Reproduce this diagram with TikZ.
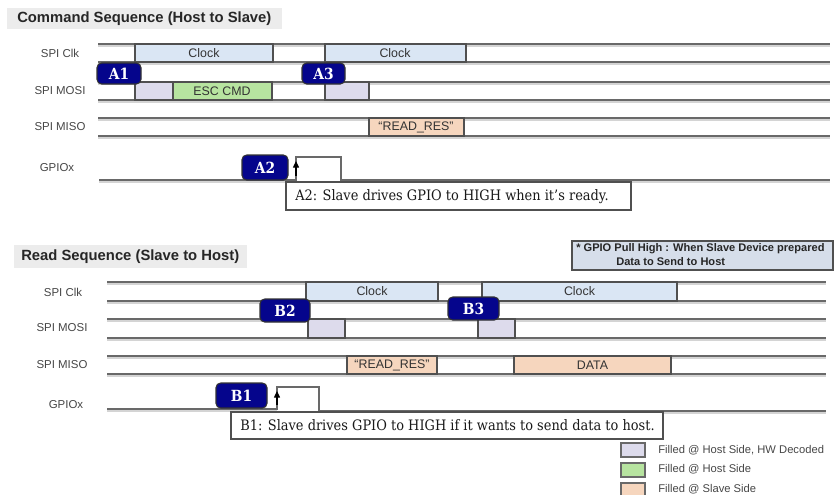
\documentclass[tikz,border=0pt]{standalone}
\usepackage{fontspec}
\setmainfont{Liberation Sans}
\newfontfamily\slab[FakeStretch=0.9]{DejaVu Serif}
\usetikzlibrary{arrows.meta}
\definecolor{sig}{RGB}{105,105,105}
\definecolor{shad}{RGB}{212,212,212}
\definecolor{clk}{RGB}{218,230,244}
\definecolor{lav}{RGB}{221,219,236}
\definecolor{grn}{RGB}{183,228,160}
\definecolor{pch}{RGB}{246,214,190}
\definecolor{navy}{RGB}{5,5,140}
\definecolor{ttl}{RGB}{236,236,236}
\definecolor{notec}{RGB}{214,222,234}
\definecolor{lbl}{RGB}{70,70,70}
\definecolor{boxb}{RGB}{80,80,80}
\tikzset{
  sigline/.style={draw=sig, line width=1.1pt},
  shadline/.style={draw=shad, line width=1.2pt},
  databox/.style={draw=boxb, line width=1.1pt},
  badgebox/.style={fill=navy, draw=black!80, line width=0.8pt, rounded corners=3.5pt},
  badgetxt/.style={text=white, font=\slab\bfseries\fontsize{11.5}{12}\selectfont, inner sep=0pt},
  sigtxt/.style={text=lbl, font=\fontsize{8.6}{9}\selectfont, inner sep=0pt},
  boxtxt/.style={text=black!80, font=\fontsize{9.3}{10}\selectfont, inner sep=0pt},
  titletxt/.style={text=black!85, font=\bfseries\fontsize{11.1}{12}\selectfont, inner sep=0pt, anchor=west},
  calltxt/.style={text=black!90, font=\slab\fontsize{10.8}{12}\selectfont, inner sep=0pt, anchor=west},
  legtxt/.style={text=lbl, font=\fontsize{8.4}{9}\selectfont, inner sep=0pt, anchor=west},
  notetxt/.style={text=black!85, font=\bfseries\fontsize{8.3}{9}\selectfont, inner sep=0pt, anchor=west},
}
\newcommand\siglines[3]{%
  \draw[shadline] (#1,#3+2) -- (#2,#3+2);
  \draw[sigline] (#1,#3) -- (#2,#3);}
\begin{document}
\begin{tikzpicture}[x=0.75pt,y=-0.75pt]
\useasboundingbox (0,0) rectangle (835,494);
% ===== Command sequence =====
\fill[ttl] (7,8) rectangle (282,29);
\node[titletxt] (t1) at (17,18.5) {Command Sequence (Host to Slave)};
% labels
\node[sigtxt] (l1) at (60,53) {SPI Clk};
\node[sigtxt] (l2) at (60,91) {SPI MOSI};
\node[sigtxt] (l3) at (60,127) {SPI MISO};
\node[sigtxt] (l4) at (57,168) {GPIOx};
% lines
\siglines{98}{830}{44}\siglines{98}{830}{62}
\siglines{98}{830}{82}\siglines{98}{830}{100}
\siglines{98}{830}{118}\siglines{98}{830}{136}
% clock boxes
\path[databox, fill=clk] (135,44) rectangle (273,62);
\node[boxtxt] (c1) at (204,53) {Clock};
\path[databox, fill=clk] (325,44) rectangle (466,62);
\node[boxtxt] (c2) at (395,53) {Clock};
% mosi
\path[databox, fill=lav] (135,82) rectangle (173,100);
\path[databox, fill=grn] (173,82) rectangle (272,100);
\node[boxtxt] (esc) at (222,91) {ESC CMD};
\path[databox, fill=lav] (325,82) rectangle (369,100);
% miso
\path[databox, fill=pch] (369,118) rectangle (464,136);
\node[boxtxt] (rr1) at (416,127) {“READ\_RES”};
% gpio
\draw[shadline] (99,182) -- (296,182);
\draw[shadline] (341,182) -- (830,182);
\draw[sigline] (99,180) -- (296,180) -- (296,157) -- (341,157) -- (341,180) -- (830,180);
\coordinate (ga0) at (296,176);
\coordinate (ga1) at (296,161);
\draw[black, line width=1pt, -{Triangle[length=5pt,width=4.5pt]}] (ga0) -- (ga1);
% badges
\path[badgebox] (97,63) rectangle (141,84);
\node[badgetxt] (A1) at (119,73.5) {A1};
\path[badgebox] (302,63) rectangle (345,84);
\node[badgetxt] (A3) at (323.5,73.5) {A3};
\path[badgebox] (242,155) rectangle (288,180);
\node[badgetxt] (A2) at (265,167.5) {A2};
% callout
\path[draw=boxb, line width=1pt, fill=white] (286,182) rectangle (631,210);
\node[calltxt] (ca) at (295,196.5) {A2: Slave drives GPIO to HIGH when it’s ready.};
% ===== Read sequence =====
\fill[ttl] (14,245) rectangle (247,268);
\node[titletxt] (t2) at (21,256.5) {Read Sequence (Slave to Host)};
\node[sigtxt] (m1) at (63,292) {SPI Clk};
\node[sigtxt] (m2) at (62,328) {SPI MOSI};
\node[sigtxt] (m3) at (62,365) {SPI MISO};
\node[sigtxt] (m4) at (66,405) {GPIOx};
\siglines{107}{826}{282}\siglines{107}{826}{301}
\siglines{107}{826}{319}\siglines{107}{826}{338}
\siglines{107}{826}{356}\siglines{107}{826}{374}
\path[databox, fill=clk] (306,282) rectangle (438,301);
\node[boxtxt] (c3) at (372,291.5) {Clock};
\path[databox, fill=clk] (482,282) rectangle (677,301);
\node[boxtxt] (c4) at (579.5,291.5) {Clock};
\path[databox, fill=lav] (308,319) rectangle (345,338);
\path[databox, fill=lav] (478,319) rectangle (515,338);
\path[databox, fill=pch] (347,356) rectangle (437,374);
\node[boxtxt] (rr2) at (392,365) {“READ\_RES”};
\path[databox, fill=pch] (514,356) rectangle (671,374);
\node[boxtxt] (dat) at (592.5,365) {DATA};
% gpio
\draw[shadline] (107,411) -- (277,411);
\draw[shadline] (319,413) -- (826,413);
\draw[sigline] (107,409) -- (277,409) -- (277,387) -- (319,387) -- (319,411) -- (826,411);
\coordinate (gb0) at (277,405);
\coordinate (gb1) at (277,391);
\draw[black, line width=1pt, -{Triangle[length=5pt,width=4.5pt]}] (gb0) -- (gb1);
% badges
\path[badgebox] (216,383) rectangle (267,408);
\node[badgetxt] (B1) at (241.5,395.5) {B1};
\path[badgebox] (260,299) rectangle (310,322);
\node[badgetxt] (B2) at (285,310.5) {B2};
\path[badgebox] (448,297) rectangle (499,320);
\node[badgetxt] (B3) at (473.5,308.5) {B3};
% callout
\path[draw=boxb, line width=1pt, fill=white] (231,412) rectangle (663,439);
\node[calltxt] (cb) at (240,425.5) {B1: Slave drives GPIO to HIGH if it wants to send data to host.};
% note
\path[draw=boxb, line width=1pt, fill=notec] (572,241) rectangle (833,270);
\node[notetxt] (n1) at (576,248.5) {* GPIO Pull High : When Slave Device prepared};
\node[notetxt] (n2) at (616,261.5) {Data to Send to Host};
% legend
\path[draw=sig, line width=0.9pt, fill=lav] (621,443) rectangle (645,457);
\node[legtxt] (lg1) at (658,450) {Filled @ Host Side, HW Decoded};
\path[draw=sig, line width=0.9pt, fill=grn] (621,463) rectangle (645,477);
\node[legtxt] (lg2) at (658,469) {Filled @ Host Side};
\path[draw=sig, line width=0.9pt, fill=pch] (621,483) rectangle (645,497);
\node[legtxt] (lg3) at (658,489) {Filled @ Slave Side};
\end{tikzpicture}
\end{document}
